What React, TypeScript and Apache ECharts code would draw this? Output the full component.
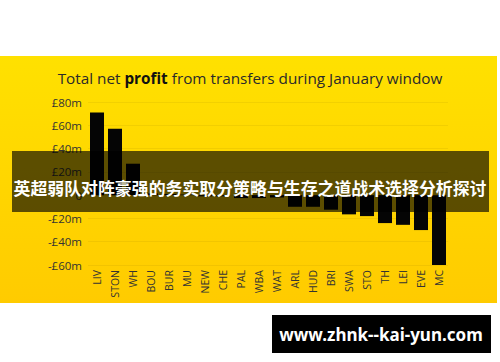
import React, { useEffect, useRef } from "react";
import * as echarts from "echarts";

const clubs = ["LIV", "STON", "WH", "BOU", "BUR", "MU", "NEW", "CHE", "PAL", "WBA", "WAT", "ARL", "HUD", "BRI", "SWA", "STO", "TH", "LEI", "EVE", "MC"];
const netProfit = [71, 57, 27, 1.5, 1, 0.5, -1, -1, -2.5, -2.5, -2, -10, -10, -12.5, -16.5, -18, -24, -25.5, -30, -60];
const yTicks = [-60, -40, -20, 0, 20, 40, 60, 80];
const titleParts = ["Total net ", "profit", " from transfers during January window"];
const bannerText = "英超弱队对阵豪强的务实取分策略与生存之道战术选择分析探讨";
const watermarkText = "www.zhnk--kai-yun.com";

function fmt(v: number): string {
  if (v === 0) return "0";
  return v > 0 ? `£${v}m` : `-£${-v}m`;
}

export default function App() {
  const ref = useRef<HTMLDivElement>(null);
  useEffect(() => {
    document.body.style.margin = "0";
    const chart = echarts.init(ref.current!, null, { renderer: "svg" });
    chart.setOption({
      animation: false,
      backgroundColor: "#ffffff",
      title: {
        text: `{a|${titleParts[0]}}{b|${titleParts[1]}}{a|${titleParts[2]}}`,
        left: "center",
        top: 65,
        textStyle: {
          rich: {
            a: { fontFamily: "Open Sans", fontSize: 15.3, color: "#2a2a2a", fontWeight: "normal" },
            b: { fontFamily: "Open Sans", fontSize: 15.3, color: "#111", fontWeight: "bold" },
          },
        },
      },
      grid: { left: 88, right: 52, top: 102, bottom: 97, containLabel: false },
      xAxis: {
        type: "category",
        data: clubs,
        axisLine: { show: false },
        axisTick: { show: false },
        axisLabel: {
          rotate: 90,
          margin: 5,
          interval: 0,
          fontFamily: "Open Sans",
          fontSize: 10.5,
          color: "#333",
        },
      },
      yAxis: {
        type: "value",
        min: yTicks[0],
        max: yTicks[yTicks.length - 1],
        interval: 20,
        axisLine: { show: false },
        axisTick: { show: false },
        splitLine: { lineStyle: { color: "rgba(0,0,0,0.05)", width: 1 } },
        axisLabel: {
          margin: 6,
          fontFamily: "Open Sans",
          fontSize: 11.5,
          color: "#333",
          formatter: (v: number) => fmt(v),
        },
      },
      series: [
        {
          type: "bar",
          data: netProfit,
          barWidth: 14,
          itemStyle: { color: "#050505" },
          z: 2,
        },
      ],
      graphic: [
        {
          type: "rect",
          z: -10,
          silent: true,
          shape: { x: 0, y: 56, width: 497, height: 247 },
          style: {
            fill: new echarts.graphic.LinearGradient(0, 0, 0, 1, [
              { offset: 0, color: "#FFE100" },
              { offset: 1, color: "#FFCB00" },
            ]),
          },
        },
        {
          type: "rect",
          z: 100,
          silent: true,
          shape: { x: 12, y: 151, width: 477, height: 61 },
          style: { fill: "rgba(0,0,0,0.64)" },
        },
        {
          type: "text",
          z: 101,
          silent: true,
          x: 250,
          y: 187,
          style: {
            text: bannerText,
            fill: "#ffffff",
            fontFamily: "Noto Sans CJK SC",
            fontWeight: "bold",
            fontSize: 16.9,
            align: "center",
            verticalAlign: "middle",
          },
        },
        {
          type: "rect",
          z: 100,
          silent: true,
          shape: { x: 272, y: 315, width: 219, height: 38 },
          style: { fill: "#000000" },
        },
        {
          type: "text",
          z: 101,
          silent: true,
          x: 381,
          y: 334,
          style: {
            text: watermarkText,
            fill: "#ffffff",
            fontFamily: "Noto Sans",
            fontWeight: "bold",
            fontSize: 17,
            align: "center",
            verticalAlign: "middle",
          },
        },
      ],
    });
    return () => chart.dispose();
  }, []);
  return <div ref={ref} style={{ width: 500, height: 362 }} />;
}
